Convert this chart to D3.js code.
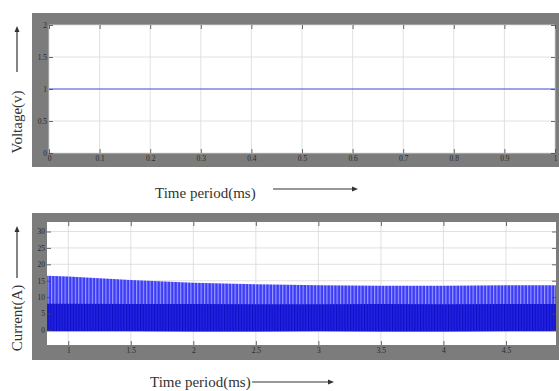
<!DOCTYPE html>
<html>
<head>
<meta charset="utf-8">
<script src="https://cdn.jsdelivr.net/npm/d3@7"></script>
<style>
  html, body { margin: 0; padding: 0; background: #fff; }
  svg { display: block; }
</style>
</head>
<body>
<svg id="chart" width="559" height="391"></svg>
<script>
// ---- Voltage panel data ----
const voltTicksX = [0, 0.1, 0.2, 0.3, 0.4, 0.5, 0.6, 0.7, 0.8, 0.9, 1];
const voltTicksY = [0, 0.5, 1, 1.5, 2];
const voltTime   = [0, 1];
const voltValue  = [1, 1];

// ---- Current panel data ----
const currTicksX = [1, 1.5, 2, 2.5, 3, 3.5, 4, 4.5];
const currTicksY = [0, 5, 10, 15, 20, 25, 30];
const currTime   = [0.83, 1.0, 1.5, 2.0, 2.5, 3.0, 3.5, 4.0, 4.5, 4.9];
const currUpper  = [16.5, 16.3, 15.2, 14.4, 13.9, 13.6, 13.5, 13.5, 13.6, 13.6];
const currCore   = [8.0, 8.0, 7.9, 7.9, 7.8, 7.8, 7.9, 7.8, 7.9, 7.9];
const currLower  = [-0.4, -0.4, -0.4, -0.5, -0.5, -0.4, -0.5, -0.5, -0.4, -0.4];

const svg = d3.select("#chart");
const FRAME = "#7c7c7c";
const serif = "'Liberation Serif', 'DejaVu Serif', serif";

// stripe textures for the switching ripple
const defs = svg.append("defs");
function stripes(id, bg, fg, w, lw) {
  const p = defs.append("pattern").attr("id", id)
    .attr("patternUnits", "userSpaceOnUse")
    .attr("width", w).attr("height", 10);
  p.append("rect").attr("width", w).attr("height", 10).attr("fill", bg);
  p.append("rect").attr("width", lw).attr("height", 10).attr("fill", fg);
}
stripes("ripple", "#3c3cf8", "#9c9cff", 3.4, 1.1);
stripes("core", "#2222e6", "#1010c4", 2.8, 1.2);

function panel(o) {
  const g = svg.append("g");
  // grey frame
  g.append("rect").attr("x", o.fx).attr("y", o.fy)
    .attr("width", o.fw).attr("height", o.fh).attr("fill", FRAME);
  // white plot area
  g.append("rect").attr("x", o.x.range()[0]).attr("y", o.y.range()[1])
    .attr("width", o.x.range()[1] - o.x.range()[0])
    .attr("height", o.y.range()[0] - o.y.range()[1])
    .attr("fill", "#fff");

  const [x0, x1] = o.x.range();
  const [y0, y1] = o.y.range();
  // grid
  g.append("g").selectAll("line").data(o.tx).join("line")
    .attr("x1", d => o.x(d)).attr("x2", d => o.x(d))
    .attr("y1", y1).attr("y2", y0)
    .attr("stroke", "#d9d9d9").attr("stroke-width", 0.8);
  g.append("g").selectAll("line").data(o.ty).join("line")
    .attr("y1", d => o.y(d)).attr("y2", d => o.y(d))
    .attr("x1", x0).attr("x2", x1)
    .attr("stroke", "#d9d9d9").attr("stroke-width", 0.8);

  return g;
}

function axes(g, o) {
  const [x0, x1] = o.x.range();
  const [y0, y1] = o.y.range();
  const tickStyle = sel => {
    sel.select(".domain").remove();
    sel.selectAll(".tick line").attr("stroke", "#444").attr("stroke-width", 0.8);
    sel.selectAll(".tick text").attr("fill", "#2a2a2a")
      .attr("font-family", serif).attr("font-size", 7.5);
  };
  g.append("g").attr("transform", `translate(0,${y0})`)
    .call(d3.axisBottom(o.x).tickValues(o.tx).tickSize(-4).tickPadding(3).tickFormat(d3.format("~g")))
    .call(tickStyle);
  g.append("g").attr("transform", `translate(0,${y1})`)
    .call(d3.axisTop(o.x).tickValues(o.tx).tickSize(-4).tickFormat(""))
    .call(tickStyle);
  g.append("g").attr("transform", `translate(${x0},0)`)
    .call(d3.axisLeft(o.y).tickValues(o.ty).tickSize(-4).tickPadding(2).tickFormat(d3.format("~g")))
    .call(tickStyle);
  g.append("g").attr("transform", `translate(${x1},0)`)
    .call(d3.axisRight(o.y).tickValues(o.ty).tickSize(-4).tickFormat(""))
    .call(tickStyle);
}

function arrowHead(x, y, dir) {
  // dir: "up" or "right"
  const pts = dir === "up"
    ? [[x, y], [x - 2.5, y + 6], [x + 2.5, y + 6]]
    : [[x, y], [x - 6, y - 2.5], [x - 6, y + 2.5]];
  svg.append("path").attr("d", d3.line()(pts) + "Z").attr("fill", "#333");
}

function titles(o) {
  // vertical y title with arrow above
  svg.append("text")
    .attr("transform", `translate(${o.ytx},${o.yty}) rotate(-90)`)
    .attr("text-anchor", "middle")
    .attr("font-family", serif).attr("font-size", 15).attr("fill", "#333")
    .text(o.ytitle);
  svg.append("line").attr("x1", o.ytx - 5).attr("x2", o.ytx - 5)
    .attr("y1", o.ayBottom).attr("y2", o.ayTop + 4)
    .attr("stroke", "#333").attr("stroke-width", 1.2);
  arrowHead(o.ytx - 5, o.ayTop, "up");
  // x title with arrow to the right
  svg.append("text").attr("x", o.xtx).attr("y", o.xty)
    .attr("font-family", serif).attr("font-size", 15).attr("fill", "#333")
    .text("Time period(ms)");
  svg.append("line").attr("x1", o.axLeft).attr("x2", o.axRight - 4)
    .attr("y1", o.axY).attr("y2", o.axY)
    .attr("stroke", "#333").attr("stroke-width", 1.2);
  arrowHead(o.axRight, o.axY, "right");
}

// ---------------- Voltage panel ----------------
const vo = {
  fx: 32, fy: 13, fw: 527, fh: 154,
  x: d3.scaleLinear().domain([0, 1]).range([49, 555]),
  y: d3.scaleLinear().domain([0, 2]).range([153, 25]),
  tx: voltTicksX, ty: voltTicksY
};
const vg = panel(vo);
vg.append("path")
  .attr("d", d3.line().x((d, i) => vo.x(voltTime[i])).y(d => vo.y(d))(voltValue))
  .attr("fill", "none").attr("stroke", "#5050e8").attr("stroke-width", 1.2);
axes(vg, vo);
titles({
  ytitle: "Voltage(v)", ytx: 22, yty: 122, ayTop: 26, ayBottom: 72,
  xtx: 155, xty: 198, axLeft: 273, axRight: 358, axY: 189
});

// ---------------- Current panel ----------------
const co = {
  fx: 32, fy: 213, fw: 527, fh: 147,
  x: d3.scaleLinear().domain([0.83, 4.9]).range([47, 556]),
  y: d3.scaleLinear().domain([-4.6, 32.9]).range([345, 222]),
  tx: currTicksX, ty: currTicksY
};
const cg = panel(co);
const clip = defs.append("clipPath").attr("id", "cclip");
clip.append("rect").attr("x", 47).attr("y", 222).attr("width", 509).attr("height", 123);
const band = cg.append("g").attr("clip-path", "url(#cclip)");
band.append("path")
  .attr("d", d3.area()
    .x((d, i) => co.x(currTime[i]))
    .y0((d, i) => co.y(currLower[i]))
    .y1(d => co.y(d))(currUpper))
  .attr("fill", "url(#ripple)");
band.append("path")
  .attr("d", d3.area()
    .x((d, i) => co.x(currTime[i]))
    .y0((d, i) => co.y(currLower[i]))
    .y1(d => co.y(d))(currCore))
  .attr("fill", "url(#core)");
axes(cg, co);
titles({
  ytitle: "Current(A)", ytx: 22, yty: 318, ayTop: 226, ayBottom: 278,
  xtx: 150, xty: 387, axLeft: 252, axRight: 334, axY: 382
});
</script>
</body>
</html>
